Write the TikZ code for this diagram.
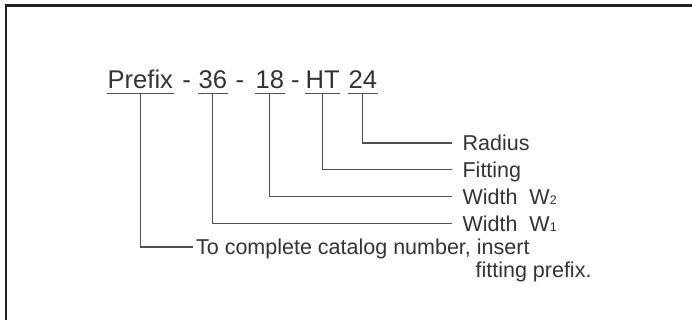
\documentclass[tikz,border=0pt]{standalone}
\usepackage{fontspec}
\setmainfont{Liberation Sans}
\usetikzlibrary{positioning}
\definecolor{tinta}{HTML}{333333}
\definecolor{linea}{HTML}{505050}
\definecolor{marco}{HTML}{222222}
\newcommand{\subw}[1]{{\fontsize{12.5}{13}\selectfont #1}}

\begin{document}
\begin{tikzpicture}[x=1pt, y=-1pt, line width=1.2pt, node distance=10.3pt,
      tk/.style={inner sep=0pt, anchor=base west, text depth=0pt, text=tinta,
                 font=\fontsize{25.6}{30}\selectfont},
      lb/.style={inner xsep=10pt, inner ysep=0pt, anchor=west, text height=15.4pt,
                 text depth=0pt, text=tinta, font=\fontsize{21.5}{26}\selectfont},
      ul/.style={draw=linea}]
    \useasboundingbox (0,0) rectangle (692,320);
    \draw[marco, line width=2.6pt] (5.8,330) -- (5.8,5.7) -- (700,5.7);
    \node[tk] (pre) at (107,88.3) {Prefix};
    \node[tk, anchor=base] (g1) at (186.7,88.3) {-};
    \node[tk] (n36) at (198,88.3) {36};
    \node[tk, anchor=base] (g2) at (240,88.3) {-};
    \node[tk] (n18) at (255,88.3) {18};
    \node[tk, anchor=base] (g3) at (295.5,88.3) {-};
    \node[tk] (ht) at (305,88.3) {HT};
    \node[tk] (n24) at (348,88.3) {24};
    \foreach \t in {pre,n36,n18,ht,n24}
      \draw[ul] ([yshift=-5pt]\t.south west) -- ([yshift=-5pt]\t.south east);
    \node[lb] (rad) at (452,143) {Radius};
    \node[lb, below=of rad.south west, anchor=north west] (fit) {Fitting};
    \node[lb, below=of fit.south west, anchor=north west] (w2) {Width\ \ W\subw{2}};
    \node[lb, below=of w2.south west, anchor=north west] (w1) {Width\ \ W\subw{1}};
    \node[lb, inner xsep=2.5pt] (ins) at (193,247) {To complete catalog number, insert};
    \node[lb, anchor=base west, inner xsep=0pt] (ins2) at (475,277) {fitting prefix.};
    \draw[ul] ([yshift=-5pt]n24.south) |- (rad.west);
    \draw[ul] ([yshift=-5pt]ht.south) |- (fit.west);
    \draw[ul] ([yshift=-5pt]n18.south) |- (w2.west);
    \draw[ul] ([yshift=-5pt]n36.south) |- (w1.west);
    \draw[ul] ([yshift=-5pt]pre.south) |- (ins.west);
  \end{tikzpicture}
\end{document}
